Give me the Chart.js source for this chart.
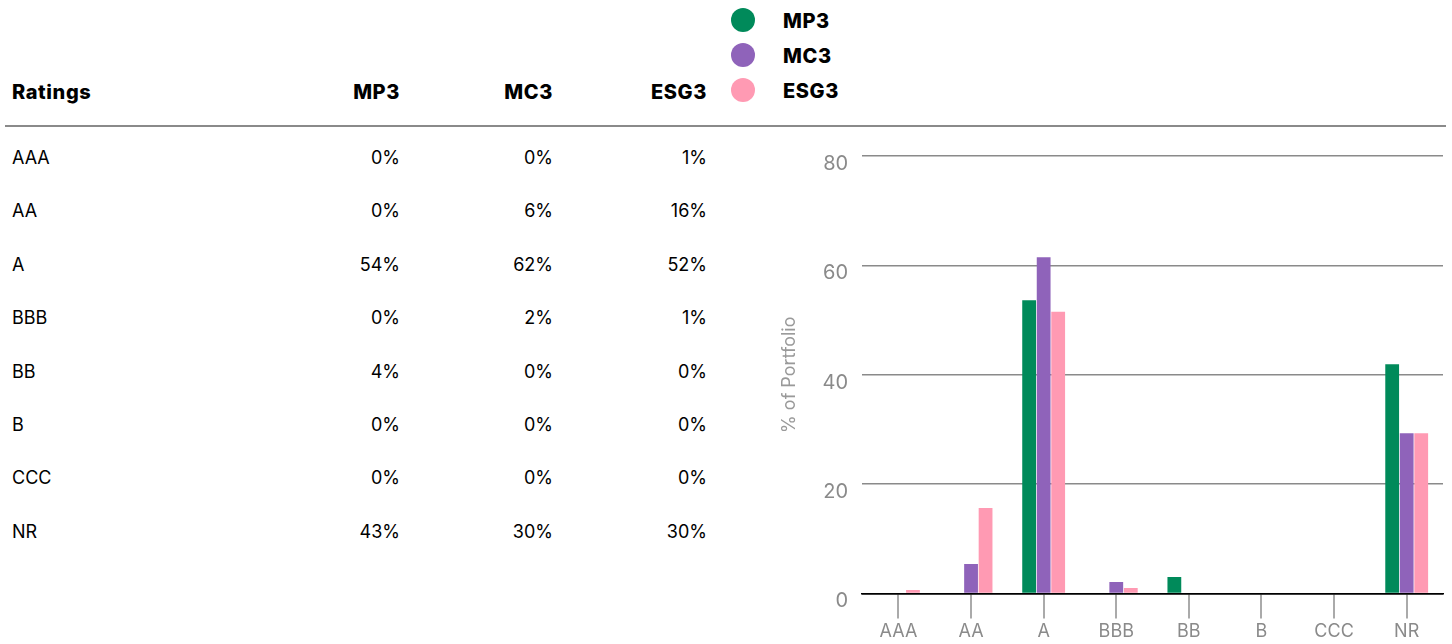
<!DOCTYPE html>
<html>
<head>
<meta charset="utf-8">
<script src="https://cdn.jsdelivr.net/npm/chart.js@4/dist/chart.umd.min.js"></script>
<style>
  html, body { margin:0; padding:0; background:#fff; width:1452px; height:644px; overflow:hidden; }
  body { font-family: Inter, "Noto Sans", sans-serif; color:#000; position:relative; }
  .cell { position:absolute; font-size:18px; line-height:22px; white-space:nowrap; }
  .hdr { font-weight:800; font-size:20px; letter-spacing:0.6px; }
  .r { text-align:right; }
  #rule { position:absolute; left:5px; top:125px; width:1441px; height:2px; background:#8a8a8a; }
  .lg { position:absolute; font-size:20px; font-weight:800; letter-spacing:0.6px; line-height:22px; }
  .dot { position:absolute; width:24px; height:24px; border-radius:50%; }
  #wrap { position:absolute; left:779px; top:130px; width:673px; height:514px; }
</style>
</head>
<body>
<div id="table"></div>
<div id="rule"></div>
<div id="legend"></div>
<div id="wrap"><canvas id="c"></canvas></div>
<script>
// ---- data ----
const categories = ["AAA", "AA", "A", "BBB", "BB", "B", "CCC", "NR"];
const seriesNames = ["MP3", "MC3", "ESG3"];
const seriesColors = ["#008a5a", "#8f63ba", "#ff9ab3"];
// values drawn as bars (% of portfolio)
const mp3Values  = [0, 0, 53.6, 0, 3.0, 0, 0, 41.9];
const mc3Values  = [0, 5.4, 61.5, 2.1, 0, 0, 0, 29.3];
const esg3Values = [0.6, 15.6, 51.5, 1.0, 0, 0, 0, 29.3];
// table labels
const tableMP3  = ["0%", "0%", "54%", "0%", "4%", "0%", "0%", "43%"];
const tableMC3  = ["0%", "6%", "62%", "2%", "0%", "0%", "0%", "30%"];
const tableESG3 = ["1%", "16%", "52%", "1%", "0%", "0%", "0%", "30%"];
const yTicks = [0, 20, 40, 60, 80];

// ---- table ----
const table = document.getElementById('table');
function cell(text, x, y, cls, right) {
  const d = document.createElement('div');
  d.className = 'cell ' + cls + (right ? ' r' : '');
  d.textContent = text;
  d.style.top = (y - 11) + 'px';
  if (right) { d.style.right = (1452 - x) + 'px'; } else { d.style.left = x + 'px'; }
  table.appendChild(d);
}
const colRight = [400, 553, 707];
cell("Ratings", 12, 92, 'hdr', false);
seriesNames.forEach((n, i) => cell(n, colRight[i], 92, 'hdr', true));
const cols = [tableMP3, tableMC3, tableESG3];
categories.forEach((c, r) => {
  const y = 158 + r * 53.4;
  cell(c, 12, y, '', false);
  cols.forEach((col, i) => cell(col[r], colRight[i], y, '', true));
});

// ---- legend ----
const legend = document.getElementById('legend');
seriesNames.forEach((n, i) => {
  const cy = 20 + i * 35;
  const d = document.createElement('div');
  d.className = 'dot';
  d.style.left = (743 - 12) + 'px';
  d.style.top = (cy - 12) + 'px';
  d.style.background = seriesColors[i];
  legend.appendChild(d);
  const t = document.createElement('div');
  t.className = 'lg';
  t.textContent = n;
  t.style.left = '783px';
  t.style.top = (cy - 10) + 'px';
  legend.appendChild(t);
});

// ---- chart ----
const seriesValues = [mp3Values, mc3Values, esg3Values];
new Chart(document.getElementById('c'), {
  type: 'bar',
  data: {
    labels: categories,
    datasets: seriesNames.map((n, i) => ({
      label: n,
      data: seriesValues[i],
      backgroundColor: seriesColors[i],
      borderWidth: 0,
      categoryPercentage: 0.6,
      barPercentage: 0.95
    }))
  },
  options: {
    responsive: true,
    maintainAspectRatio: false,
    animation: false,
    layout: { padding: { top: 4, right: 9, bottom: 0, left: 0 } },
    plugins: { legend: { display: false }, tooltip: { enabled: false } },
    scales: {
      x: {
        offset: true,
        border: { display: true, color: '#000', width: 1.5 },
        grid: { offset: false, drawOnChartArea: false, drawTicks: true, tickLength: 25, color: '#aaaaaa', lineWidth: 2 },
        ticks: { color: '#8a8a8a', font: { family: 'Inter', size: 18 }, padding: 2 }
      },
      y: {
        min: 0, max: 80,
        afterBuildTicks: (axis) => { axis.ticks = yTicks.map(v => ({ value: v })); },
        border: { display: false },
        grid: {
          drawTicks: false,
          color: (ctx) => ctx.tick && ctx.tick.value === 0 ? '#000' : '#8a8a8a',
          lineWidth: 1.5
        },
        ticks: { color: '#8a8a8a', font: { family: 'Inter', size: 20 }, padding: 14, labelOffset: 8 },
        title: { display: true, text: '% of Portfolio', color: '#999999', font: { family: 'Inter', size: 18 }, padding: { top: 0, bottom: 8 } }
      }
    }
  }
});
</script>
</body>
</html>
